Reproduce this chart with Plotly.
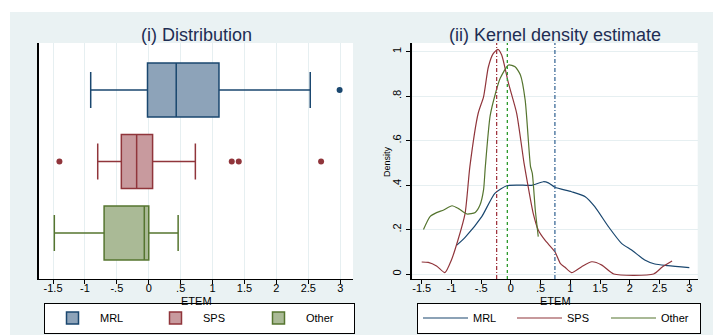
import plotly.graph_objects as go

# ---------------- data ----------------
categories = ["MRL", "SPS", "Other"]
box_q1 = [-0.02, -0.43, -0.70]
box_median = [0.43, -0.19, -0.07]
box_q3 = [1.10, 0.06, 0.00]
box_low = [-0.91, -0.80, -1.48]
box_high = [2.53, 0.73, 0.46]
outliers = {
    "MRL": [2.99],
    "SPS": [-1.40, 1.30, 1.41, 2.70],
    "Other": [],
}

mrl_x = [-0.91, -0.77, -0.49, -0.27, -0.07, 0.12, 0.35, 0.545, 0.63, 0.74, 1.02, 1.25, 1.41, 1.64, 1.86, 2.03, 2.25, 2.42, 2.64, 3.0]
mrl_y = [0.13, 0.165, 0.258, 0.363, 0.397, 0.40, 0.399, 0.415, 0.41, 0.39, 0.37, 0.348, 0.303, 0.213, 0.138, 0.108, 0.063, 0.045, 0.038, 0.029]

sps_x = [-1.5, -1.39, -1.25, -1.11, -1.0, -0.89, -0.77, -0.69, -0.55, -0.46, -0.38, -0.30, -0.22, -0.155, -0.04, 0.097, 0.22, 0.29, 0.375, 0.46, 0.57, 0.74, 0.83, 0.91, 1.02, 1.19, 1.36, 1.53, 1.73, 2.40, 2.54, 2.71]
sps_y = [0.054, 0.052, 0.036, 0.006, 0.063, 0.153, 0.273, 0.483, 0.723, 0.797, 0.93, 0.99, 1.01, 0.985, 0.857, 0.723, 0.50, 0.393, 0.273, 0.198, 0.153, 0.10, 0.048, 0.03, 0.006, 0.033, 0.055, 0.04, 0.0, 0.0, 0.03, 0.058]

oth_x = [-1.47, -1.36, -1.25, -1.13, -0.99, -0.88, -0.74, -0.60, -0.52, -0.46, -0.43, -0.35, -0.26, -0.18, -0.04, 0.07, 0.16, 0.24, 0.33, 0.36, 0.41, 0.46]
oth_y = [0.20, 0.258, 0.276, 0.288, 0.307, 0.294, 0.27, 0.277, 0.31, 0.378, 0.483, 0.71, 0.812, 0.88, 0.94, 0.932, 0.895, 0.782, 0.483, 0.453, 0.288, 0.168]

means = [0.74, -0.24, -0.06]

x_tickvals = [-1.5, -1, -0.5, 0, 0.5, 1, 1.5, 2, 2.5, 3]
x_ticktext = ["-1.5", "-1", "-.5", "0", ".5", "1", "1.5", "2", "2.5", "3"]
y_tickvals = [0, 0.2, 0.4, 0.6, 0.8, 1]
y_ticktext = ["0", ".2", ".4", ".6", ".8", "1"]

# ---------------- styles ----------------
line_cols = ["#1A476F", "#90353B", "#55752F"]
fill_cols = ["#8DA3B9", "#C89A9E", "#AABA96"]
mean_cols = ["#3C6A98", "#A0353F", "#2E9B2E"]
mean_dash = ["4px,2px,1px,2px", "4px,2px,1px,2px", "3px,3px"]
BG = "#EAF2F3"
GRID = "#E6EFF1"
TITLE_COL = "#1E2D53"
FONT = "Liberation Sans"

W, H = 713, 335

fig = go.Figure()

for i, cat in enumerate(categories):
    fig.add_trace(go.Box(
        y=[cat], q1=[box_q1[i]], median=[box_median[i]], q3=[box_q3[i]],
        lowerfence=[box_low[i]], upperfence=[box_high[i]],
        orientation="h", name=cat, width=0.755, whiskerwidth=0.67,
        fillcolor=fill_cols[i], line=dict(color=line_cols[i], width=1.5),
        boxpoints=False, xaxis="x", yaxis="y", legend="legend",
        hoverinfo="skip",
    ))
    if outliers[cat]:
        fig.add_trace(go.Scatter(
            x=outliers[cat], y=[cat] * len(outliers[cat]), mode="markers",
            marker=dict(color=line_cols[i], size=6), showlegend=False,
            xaxis="x", yaxis="y",
        ))

dens = [(mrl_x, mrl_y), (sps_x, sps_y), (oth_x, oth_y)]
for i, cat in enumerate(categories):
    fig.add_trace(go.Scatter(
        x=dens[i][0], y=dens[i][1], mode="lines", name=cat,
        line=dict(color=line_cols[i], width=1.2, shape="spline", smoothing=0.6),
        xaxis="x2", yaxis="y2", legend="legend2",
    ))

for i in range(3):
    fig.add_shape(type="line", xref="x2", yref="y2 domain",
                  x0=means[i], x1=means[i], y0=0, y1=1,
                  line=dict(color=mean_cols[i], width=1.3, dash=mean_dash[i]))

# white margins around the graph region
fig.add_shape(type="rect", xref="paper", yref="paper", x0=0, x1=1,
              y0=(H - 12) / H, y1=1, fillcolor="white", line_width=0, layer="below")
fig.add_shape(type="rect", xref="paper", yref="paper", x0=0, x1=10 / W,
              y0=0, y1=1, fillcolor="white", line_width=0, layer="below")

ydom = [(H - 279) / H, (H - 43) / H]
tickfont = dict(family=FONT, size=11, color="black")

fig.update_layout(
    width=W, height=H, margin=dict(l=0, r=0, t=0, b=0, autoexpand=False),
    paper_bgcolor=BG, plot_bgcolor="white",
    font=dict(family=FONT, color="black"),
    xaxis=dict(domain=[39 / W, 353 / W], range=[-1.72, 3.2],
               tickvals=x_tickvals, ticktext=x_ticktext, ticks="outside",
               ticklen=4, tickcolor="black", showline=True, linecolor="black",
               linewidth=1, showgrid=True, gridcolor=GRID, zeroline=False,
               tickfont=tickfont, anchor="y", ticklabelstandoff=-5),
    yaxis=dict(domain=ydom, type="category", categoryorder="array",
               categoryarray=["Other", "SPS", "MRL"], range=[-0.643, 2.657],
               showticklabels=False, ticks="", showline=True, linecolor="black",
               linewidth=1.5, showgrid=False, zeroline=False, anchor="x"),
    xaxis2=dict(domain=[412.3 / W, 697.7 / W], range=[-1.658, 3.141],
                tickvals=x_tickvals, ticktext=x_ticktext, ticks="outside",
                ticklen=4, tickcolor="black", showline=True, linecolor="black",
                linewidth=1, showgrid=False, zeroline=False, tickfont=tickfont,
                anchor="y2", ticklabelstandoff=-5),
    yaxis2=dict(domain=ydom, range=[-0.0225, 1.039], tickvals=y_tickvals,
                ticktext=y_ticktext, ticks="outside", ticklen=5, tickcolor="black",
                tickangle=-90, showline=True, linecolor="black", linewidth=1.5,
                showgrid=True, gridcolor=GRID, zeroline=False, tickfont=tickfont,
                anchor="x2"),
    legend=dict(orientation="h", x=44 / W, y=(H - 318) / H, xanchor="left",
                yanchor="middle", bgcolor="white", bordercolor="black", borderwidth=1,
                font=dict(family=FONT, size=11), entrywidth=43, itemwidth=45,
                traceorder="normal"),
    legend2=dict(orientation="h", x=417 / W, y=(H - 318) / H, xanchor="left",
                 yanchor="middle", bgcolor="white", bordercolor="black", borderwidth=1,
                 font=dict(family=FONT, size=11), entrywidth=34, itemwidth=45,
                 traceorder="normal"),
    annotations=[
        dict(text="(i) Distribution", xref="x domain", yref="paper", x=0.5,
             y=(H - 35) / H, showarrow=False, xanchor="center", yanchor="middle",
             font=dict(family=FONT, size=18, color=TITLE_COL)),
        dict(text="(ii) Kernel density estimate", xref="x2 domain", yref="paper",
             x=0.5, y=(H - 35) / H, showarrow=False, xanchor="center",
             yanchor="middle", font=dict(family=FONT, size=18, color=TITLE_COL)),
        dict(text="ETEM", xref="x domain", yref="paper", x=0.5,
             y=(H - 301) / H, showarrow=False, xanchor="center", yanchor="middle",
             font=dict(family=FONT, size=11, color="black")),
        dict(text="ETEM", xref="x2 domain", yref="paper", x=0.5,
             y=(H - 301) / H, showarrow=False, xanchor="center", yanchor="middle",
             font=dict(family=FONT, size=11, color="black")),
        dict(text="Density", xref="paper", yref="y2 domain", x=387 / W, y=0.5,
             textangle=-90, showarrow=False, xanchor="center", yanchor="middle",
             font=dict(family=FONT, size=9, color="black")),
    ],
    showlegend=True,
)

fig.write_html("out.html", config={"displayModeBar": False},
               post_script="document.body.style.margin='0';document.body.style.overflow='hidden';")
